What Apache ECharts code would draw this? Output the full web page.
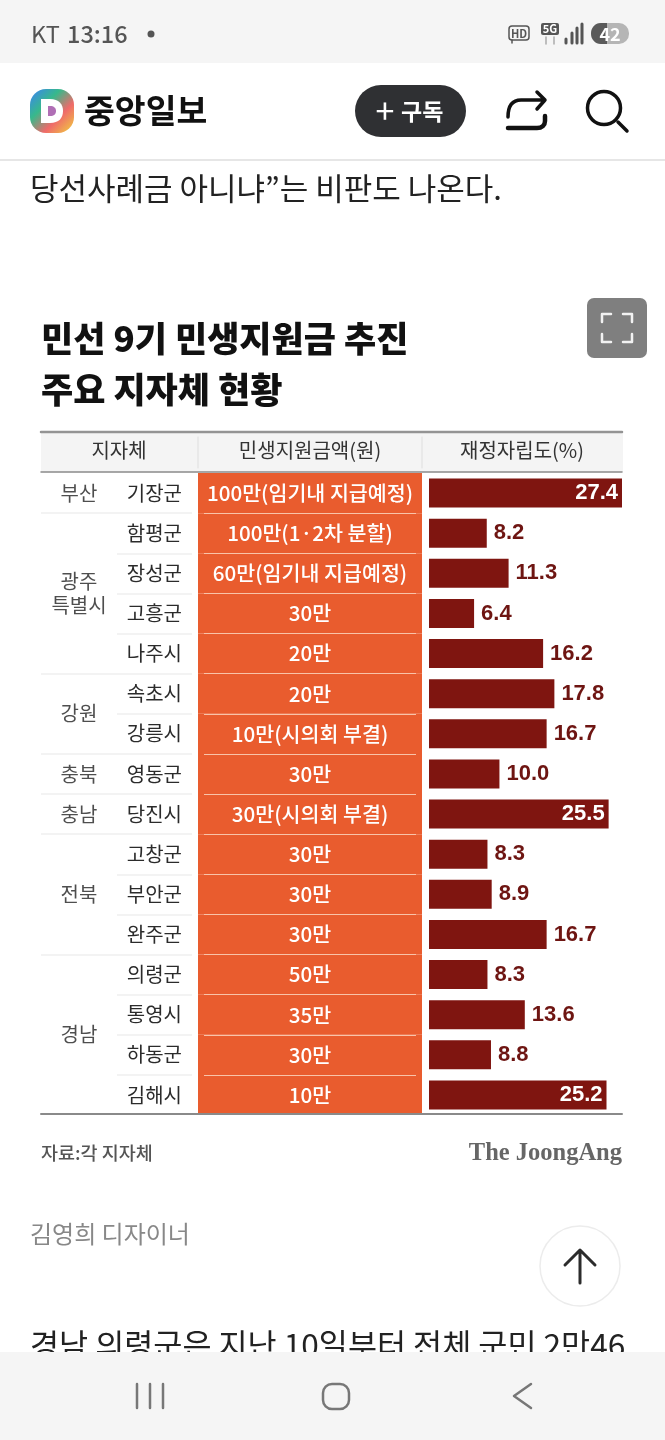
<!DOCTYPE html>
<html><head><meta charset="utf-8">
<style>html,body{margin:0;padding:0;background:#fff}#c{width:665px;height:1440px}</style>
<script src="https://cdn.jsdelivr.net/npm/echarts@6/dist/echarts.min.js"></script></head>
<body><div id="c"></div>
<script>
const districts=['기장군','함평군','장성군','고흥군','나주시','속초시','강릉시','영동군','당진시','고창군','부안군','완주군','의령군','통영시','하동군','김해시'];
const amounts=['100만(임기내 지급예정)','100만(1·2차 분할)','60만(임기내 지급예정)','30만','20만','20만','10만(시의회 부결)','30만','30만(시의회 부결)','30만','30만','30만','50만','35만','30만','10만'];
const fiscal=[27.4,8.2,11.3,6.4,16.2,17.8,16.7,10.0,25.5,8.3,8.9,16.7,8.3,13.6,8.8,25.2];
const regions=['부산','광주\n특별시','강원','충북','충남','전북','경남'];
const regionRows=[1,4,2,1,1,3,4];
const headers=['지자체','민생지원금액(원)','재정자립도(%)'];
const title=['민선 9기 민생지원금 추진','주요 지자체 현황'];

const KR='"Noto Sans CJK KR","Noto Sans",sans-serif';
const top0=473,hgt=642;
const BAR='#7f1510',ORG='#e95c2e',DARK='#222';
let acc=0;const regionPts=[],regionEnds=[];
regionRows.forEach((n,i)=>{regionPts.push({value:[0.5,acc+n/2],name:regions[i]});acc+=n;if(acc<districts.length)regionEnds.push(acc);});

const grids=[
 {left:429,width:193,top:top0,height:hgt},
 {left:198,width:224,top:top0,height:hgt},
 {left:204,width:212,top:top0,height:hgt},
 {left:117,width:75,top:top0,height:hgt},
 {left:41,width:76,top:top0,height:hgt}
].map(g=>({...g,outerBoundsMode:'none',containLabel:false}));
const hiddenX=(i,max)=>({type:'value',gridIndex:i,min:0,max,show:false});
const catY=(i,extra)=>Object.assign({type:'category',gridIndex:i,inverse:true,data:districts,axisLine:{show:false},axisTick:{show:false},axisLabel:{show:false},splitLine:{show:false}},extra);

let pathId=0;
const T=(x,y,text,o)=>({type:'text',x,y,z:o&&o.z||20,style:Object.assign({text,fill:DARK,font:'400 24px '+KR,textVerticalAlign:'middle'},o&&o.style||{})});
const L=(x1,y1,x2,y2,stroke,lineWidth,z)=>({type:'line',z:z||20,shape:{x1,y1,x2,y2},style:{stroke,lineWidth,lineCap:'round'}});
const R=(x,y,w,h,fill,z,r)=>({type:'rect',z:z||1,shape:{x,y,width:w,height:h,r:r||0},style:{fill}});
const P=(d,stroke,lw,z,fill)=>{const name='ico'+(pathId++);echarts.graphic.registerShape(name,echarts.graphic.extendPath(d,{}));
  return {type:name,z:z||20,style:{stroke:stroke,lineWidth:lw,fill:fill||'none',lineCap:'round',lineJoin:'round'}};};

const graphic=[
 // table header
 R(41,432,582,40,'#f4f4f4',1),
 L(41,432,622,432,'#939393',2.5,2),L(41,472,622,472,'#8a8a8a',1.5,2),
 L(198,437,198,468,'#dedede',1,2),L(422,437,422,468,'#dedede',1,2),
 L(41,1114,622,1114,'#8a8a8a',2,30),
 T(119,450,headers[0],{style:{font:'400 20px '+KR,textAlign:'center',fill:'#333'}}),
 T(310,450,headers[1],{style:{font:'400 20px '+KR,textAlign:'center',fill:'#333'}}),
 T(522,450,headers[2],{style:{font:'400 20px '+KR,textAlign:'center',fill:'#333'}}),
 // chart title and source
 T(41,339,title[0],{style:{font:'900 35px '+KR,fill:'#111'}}),
 T(41,390,title[1],{style:{font:'900 35px '+KR,fill:'#111'}}),
 T(41,1153,'자료:각 지자체',{style:{font:'500 18.5px '+KR,fill:'#555'}}),
 T(622,1154,'The JoongAng',{style:{font:'700 24.5px "Liberation Serif",serif',fill:'#666',textAlign:'right'}}),
 // expand button
 R(587,298,60,60,'#7f7f7f',5,7),
 P('M602 322V314H611M632 322V314H623M602 334V342H611M632 334V342H623','#f2f2f2',2.5,6),
 // article
 T(30,188,'당선사례금 아니냐”는 비판도 나온다.',{style:{font:'400 31px '+KR,fill:'#222'}}),
 T(30,1234,'김영희 디자이너',{style:{font:'400 24px '+KR,fill:'#888'}}),
 T(30,1345,'경남 의령군은 지난 10일부터 전체 군민 2만46',{style:{font:'400 31.6px '+KR,fill:'#222'}}),
 {type:'circle',z:20,shape:{cx:580,cy:1266,r:40},style:{fill:'#fff',stroke:'#ececec',lineWidth:1.5}},
 P('M580 1283V1250M565 1265L580 1250L595 1265','#2c2c2c',3,21),
 // app header
 R(0,63,665,97,'#fff',40),
 L(0,160,665,160,'#e6e6e6',2,41),
 {type:'rect',z:41,shape:{x:30,y:89,width:44,height:44,r:16},style:{fill:new echarts.graphic.LinearGradient(0,0,1,1,[{offset:0,color:'#3b82f6'},{offset:.35,color:'#37b98b'},{offset:.65,color:'#ef6a6a'},{offset:1,color:'#f1d23c'}])}},
 P('M41 99H50C59 99 63 104 63 111C63 118 59 123 50 123H41Z','#fff',0,42,'#fff'),
 P('M48 106H50C54 106 56 108 56 111C56 114 54 116 50 116H48Z','#b06fb5',0,43,'#b06fb5'),
 T(84,110,'중앙일보',{z:41,style:{font:'700 33.5px '+KR,fill:'#111'}}),
 R(355,85,111,52,'#2f3033',41,26),
 T(385,111,'+',{z:42,style:{font:'400 34px '+KR,fill:'#fff',textAlign:'center'}}),
 T(401,111,'구독',{z:42,style:{font:'700 23px '+KR,fill:'#fff'}}),
 P('M508 117C508 106 512 100 521 100H545M537 92L545 100L537 109','#111',3.5,42),
 P('M508 128H537C542 128 545 125 545 121V116','#111',4.5,42),
 {type:'circle',z:42,shape:{cx:604,cy:108,r:16.5},style:{fill:'none',stroke:'#111',lineWidth:3.5}},
 L(618,122,627,131,'#111',3.5,42),
 // status bar
 R(0,0,665,63,'#f5f5f5',40),
 T(31,34,'KT',{z:41,style:{font:'400 23.5px '+KR,fill:'#555'}}),
 T(67,34,'13:16',{z:41,style:{font:'500 23.5px '+KR,fill:'#555'}}),
 {type:'circle',z:41,shape:{cx:151,cy:34,r:3.5},style:{fill:'#555'}},
 {type:'rect',z:41,shape:{x:509,y:26,width:20,height:14,r:3},style:{fill:'none',stroke:'#555',lineWidth:1.5}},
 L(512,40,512,43,'#555',1.5,41),
 T(519,33.5,'HD',{z:42,style:{font:'700 11px '+KR,fill:'#555',textAlign:'center'}}),
 R(541,23,18,12,'#555',41,2),
 T(550,29,'5G',{z:42,style:{font:'700 11px '+KR,fill:'#fff',textAlign:'center'}}),
 L(546,37,546,44,'#aaa',1.5,41),L(554,37,554,44,'#aaa',1.5,41),
 L(566,39,566,43,'#555',3,41),L(572,33,572,43,'#555',3,41),L(577,28,577,43,'#555',3,41),L(582,24,582,43,'#555',3,41),
 R(591,23,38,21,'#b5b5b5',41,10),
 P('M607 23H601C595 23 591 28 591 33.5C591 39 595 44 601 44H607Z','#5a5a5a',0,42,'#5a5a5a'),
 T(610,34,'42',{z:43,style:{font:'700 18px '+KR,fill:'#fff',textAlign:'center'}}),
 // navigation bar
 R(0,1352,665,88,'#f5f5f5',40),
 L(137,1384,137,1408,'#777',2.5,41),L(150,1384,150,1408,'#777',2.5,41),L(163,1384,163,1408,'#777',2.5,41),
 {type:'rect',z:41,shape:{x:323,y:1384,width:26,height:25,r:9},style:{fill:'none',stroke:'#777',lineWidth:2.5}},
 P('M531 1384L514 1396L531 1408','#777',2.5,41)
];

const option={
 animation:false,backgroundColor:'#fff',
 textStyle:{fontFamily:KR},
 grid:grids,
 xAxis:[hiddenX(0,27.4),hiddenX(1,1),hiddenX(2,1),hiddenX(3,1),{type:'value',gridIndex:4,min:0,max:1,show:false}],
 yAxis:[
  catY(0),
  catY(1),
  catY(2,{z:5,splitLine:{show:true,showMinLine:false,showMaxLine:false,lineStyle:{color:'#f9c3a9',width:1}}}),
  catY(3,{position:'right',splitLine:{show:true,showMinLine:false,showMaxLine:false,lineStyle:{color:'#efefef',width:1.5}},
    axisLabel:{show:true,inside:true,margin:10,fontSize:20,color:'#2b2b2b',fontFamily:KR}}),
  {type:'value',gridIndex:4,min:0,max:districts.length,inverse:true,show:false}
 ],
 series:[
  {type:'bar',xAxisIndex:0,yAxisIndex:0,barWidth:29,silent:true,itemStyle:{color:BAR},
   data:fiscal.map(v=>{const inside=v>=25;return {value:v,label:{position:inside?'insideRight':'right',distance:inside?4:7,color:inside?'#fff':'#6e1512'}};}),
   label:{show:true,fontSize:22,fontWeight:700,fontFamily:'"Liberation Sans",sans-serif',formatter:p=>p.value.toFixed(1)}},
  {type:'bar',xAxisIndex:1,yAxisIndex:1,barWidth:'100%',silent:true,itemStyle:{color:ORG},
   data:amounts.map(a=>({value:1,name:a})),
   label:{show:true,position:'inside',color:'#fff',fontSize:20.6,fontWeight:500,fontFamily:KR,formatter:p=>amounts[p.dataIndex]}},
  {type:'scatter',xAxisIndex:4,yAxisIndex:4,symbolSize:0,silent:true,data:regionPts,
   label:{show:true,position:'inside',color:'#222',fontSize:20,lineHeight:24,fontFamily:KR,formatter:p=>p.name},
   markLine:{silent:true,symbol:'none',label:{show:false},lineStyle:{type:'solid',color:'#efefef',width:1.5},data:regionEnds.map(y=>({yAxis:y}))}}
 ],
 graphic
};
const chart=echarts.init(document.getElementById('c'),null,{renderer:'canvas',width:665,height:1440});
chart.setOption(option);
</script></body></html>
